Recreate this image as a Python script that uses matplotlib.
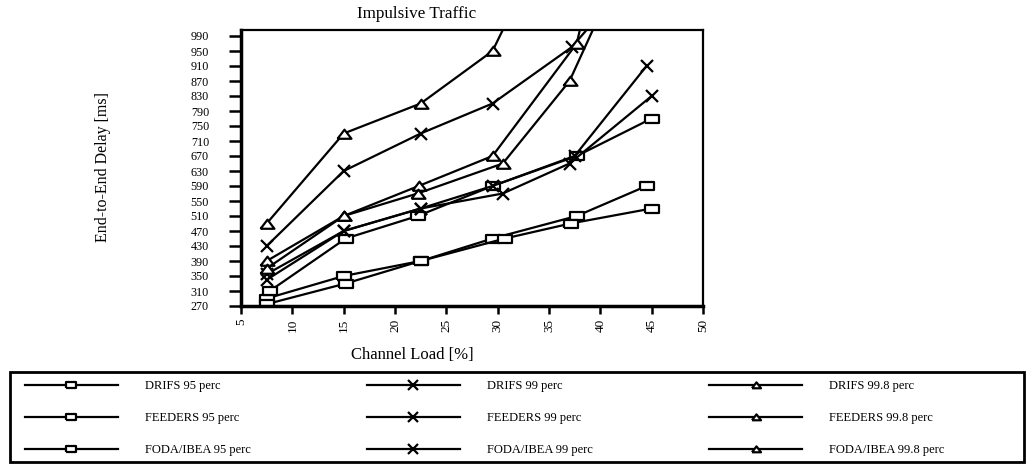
import matplotlib
matplotlib.use('Agg')
import matplotlib.pyplot as plt
from matplotlib.patches import Rectangle

plt.rcParams['font.family'] = ['Liberation Serif', 'DejaVu Serif']

# x positions (channel load %) and delays (ms) per series
x_drifs95 = [7.5, 15, 22.5, 29.5, 37.7, 44.5]
y_drifs95 = [290, 350, 390, 450, 510, 590]
x_feeders95 = [7.5, 15.2, 22.5, 30.7, 37.1, 45]
y_feeders95 = [275, 330, 390, 450, 490, 530]
x_foda95 = [7.8, 15.2, 22.2, 29.5, 37.7, 45]
y_foda95 = [310, 450, 510, 590, 670, 770]

x_drifs99 = [7.5, 15, 22.5, 29.5, 37.5, 44.5]
y_drifs99 = [355, 470, 530, 590, 670, 910]
x_feeders99 = [7.5, 15, 22.5, 30.5, 37, 45]
y_feeders99 = [340, 470, 530, 570, 650, 830]
x_foda99 = [7.5, 15, 22.5, 29.5, 37.2, 44.5]
y_foda99 = [430, 630, 730, 810, 960, 1190]

x_drifs998 = [7.5, 15, 22.3, 29.5, 37.7, 45]
y_drifs998 = [390, 510, 590, 670, 970, 1830]
x_feeders998 = [7.5, 15, 22.2, 30.5, 37, 44.5]
y_feeders998 = [370, 510, 570, 650, 870, 1320]
x_foda998 = [7.5, 15, 22.5, 29.5, 37.5]
y_foda998 = [490, 730, 810, 950, 1400]

series = [
    ('DRIFS 95 perc', x_drifs95, y_drifs95, 'sq'),
    ('FEEDERS 95 perc', x_feeders95, y_feeders95, 'sq'),
    ('FODA/IBEA 95 perc', x_foda95, y_foda95, 'sq'),
    ('DRIFS 99 perc', x_drifs99, y_drifs99, 'x'),
    ('FEEDERS 99 perc', x_feeders99, y_feeders99, 'x'),
    ('FODA/IBEA 99 perc', x_foda99, y_foda99, 'x'),
    ('DRIFS 99.8 perc', x_drifs998, y_drifs998, 'tri'),
    ('FEEDERS 99.8 perc', x_feeders998, y_feeders998, 'tri'),
    ('FODA/IBEA 99.8 perc', x_foda998, y_foda998, 'tri'),
]

# wide box and flat triangle like the original
rect = [(-1.4, -0.9), (1.4, -0.9), (1.4, 0.9), (-1.4, 0.9), (-1.4, -0.9)]
tri = [(-1.3, -0.8), (1.3, -0.8), (0, 0.9), (-1.3, -0.8)]
MARKERS = {'sq': (rect, 10), 'x': ('x', 9), 'tri': (tri, 10)}

fig = plt.figure(figsize=(10.34, 4.72), dpi=100)
ax = fig.add_axes([241 / 1034, 1 - 306 / 472, 462 / 1034, 276 / 472])

for label, xs, ys, m in series:
    mk, ms = MARKERS[m]
    ax.plot(xs, ys, color='black', lw=1.6, marker=mk, markersize=ms,
            markerfacecolor='white', markeredgecolor='black',
            markeredgewidth=1.6, label=label)

ax.set_xlim(5, 50)
ax.set_ylim(270, 1006)
ax.set_xticks(range(5, 51, 5))
ax.set_yticks(range(270, 991, 40))
ax.tick_params(axis='x', labelrotation=90, labelsize=9.5, direction='out',
               length=6, width=1.8, pad=3)
ax.tick_params(axis='y', labelsize=8.7, direction='out', length=9, width=1.8, pad=14)
for s in ['left', 'bottom']:
    ax.spines[s].set_linewidth(2.5)
for s in ['top', 'right']:
    ax.spines[s].set_linewidth(1.6)

fig.text(417 / 1034, 1 - 14 / 472, 'Impulsive Traffic', ha='center', va='center', fontsize=12.3)
fig.text(412 / 1034, 1 - 355 / 472, 'Channel Load [%]', ha='center', va='center', fontsize=12)
fig.text(103 / 1034, 1 - 167 / 472, 'End-to-End Delay [ms]', ha='center', va='center',
         rotation=90, fontsize=11.5)

# legend box drawn separately: it is much wider than its entries
fig.patches.append(Rectangle((10 / 1034, 10 / 472), 1014 / 1034, 90 / 472,
                             transform=fig.transFigure, fill=False, lw=2, ec='black'))
leg = fig.legend(loc='upper left', bbox_to_anchor=(25 / 1034, 1 - 380 / 472),
                 ncol=3, numpoints=1, fontsize=9, handlelength=7.4,
                 handletextpad=2.2, labelspacing=1.62, columnspacing=9.3,
                 borderpad=0, borderaxespad=0, frameon=False)
for h in leg.legend_handles:
    h.set_markersize(6.5)

fig.savefig('out.png', dpi=100)
